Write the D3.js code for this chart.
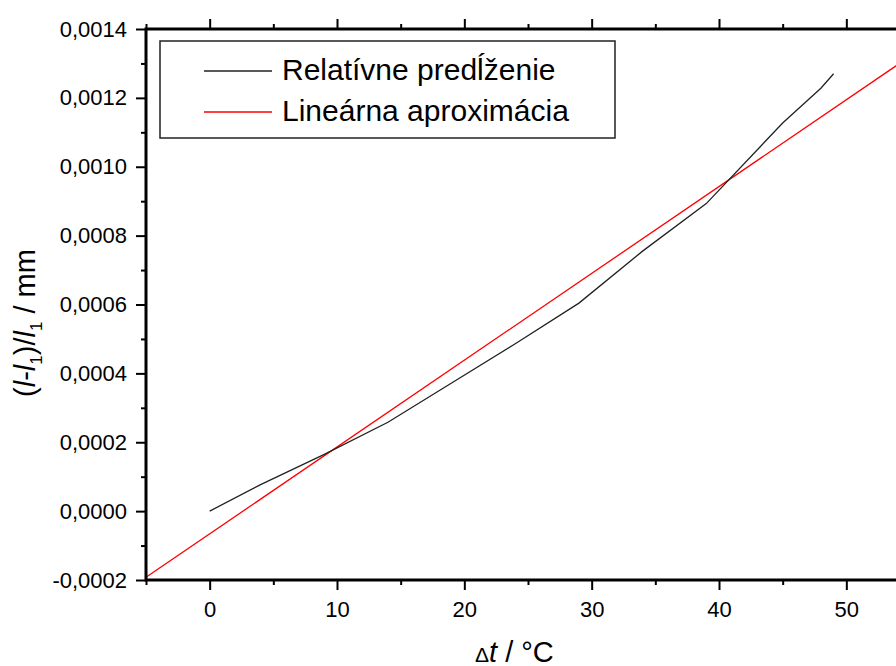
<!DOCTYPE html>
<html lang="sk">
<head>
  <meta charset="UTF-8">
  <title>Relatívne predĺženie</title>
  <style>
    body { margin: 0; background: #fff; }
    svg { display: block; font-family: "Liberation Sans", Arial, sans-serif; }
  </style>
</head>
<body>
  <div id="chart"></div>
  <script src="https://cdn.jsdelivr.net/npm/d3@7/dist/d3.min.js"></script>
  <script>
    // namerané hodnoty
    var dt = [0, 4, 9, 14, 19, 24, 29, 34, 39, 45, 48, 49];
    var rel = [0.0000, 0.000077, 0.000165, 0.000258, 0.000372, 0.000486, 0.000604,
      0.000755, 0.000893, 0.001127, 0.001228, 0.00127];
    // lineárna aproximácia y = a*t + b
    var fitA = 2.521e-5;
    var fitB = -6.6e-5;
    var fitRange = [-5, 55];

    var xTicks = [0, 10, 20, 30, 40, 50];
    var yTicks = [-0.0002, 0, 0.0002, 0.0004, 0.0006, 0.0008, 0.0010, 0.0012, 0.0014];

    var width = 896, height = 666;
    var pLeft = 146, pRight = 910, pTop = 29, pBottom = 580;

    var x = d3.scaleLinear().domain([-5, 55]).range([pLeft, pRight]);
    var y = d3.scaleLinear().domain([-0.0002, 0.0014]).range([pBottom, pTop]);

    var loc = d3.formatLocale({decimal: ',', thousands: ' ', grouping: [3], currency: ['', ''], minus: '-'});
    var fmt = loc.format('.4f');

    var svg = d3.select('#chart').append('svg')
      .attr('width', width)
      .attr('height', height);

    svg.append('clipPath').attr('id', 'plot')
      .append('rect')
      .attr('x', pLeft).attr('y', pTop)
      .attr('width', pRight - pLeft).attr('height', pBottom - pTop);

    var plot = svg.append('g').attr('clip-path', 'url(#plot)');

    var fitData = fitRange.map(function(t) { return {t: t, v: fitA * t + fitB}; });
    plot.append('path')
      .datum(fitData)
      .attr('fill', 'none')
      .attr('stroke', '#ff0000')
      .attr('stroke-width', 1.3)
      .attr('d', d3.line().x(function(d) { return x(d.t); }).y(function(d) { return y(d.v); }));

    var meas = dt.map(function(t, i) { return {t: t, v: rel[i]}; });
    plot.append('path')
      .datum(meas)
      .attr('fill', 'none')
      .attr('stroke', '#222')
      .attr('stroke-width', 1.3)
      .attr('d', d3.line().x(function(d) { return x(d.t); }).y(function(d) { return y(d.v); }));

    // osi
    var xMinor = d3.range(-5, 56, 5).filter(function(t) { return t % 10 !== 0; });
    var yMinor = d3.range(-1, 14, 2).map(function(k) { return k * 0.0001; });

    function styleAxis(g) {
      g.attr('font-size', 22).attr('font-family', 'Liberation Sans, Arial, sans-serif');
      g.select('.domain').remove();
      g.selectAll('line').attr('stroke', '#000').attr('stroke-width', 2);
      g.selectAll('text').attr('fill', '#000');
    }

    svg.append('g').attr('transform', 'translate(0,' + pBottom + ')')
      .call(d3.axisBottom(x).tickValues(xTicks).tickSize(10).tickPadding(11).tickFormat(d3.format('d')))
      .call(styleAxis);
    svg.append('g').attr('transform', 'translate(0,' + pBottom + ')')
      .call(d3.axisBottom(x).tickValues(xMinor).tickSize(5).tickFormat(''))
      .call(styleAxis);

    svg.append('g').attr('transform', 'translate(0,' + pTop + ')')
      .call(d3.axisTop(x).tickValues(xTicks).tickSize(10).tickFormat(''))
      .call(styleAxis);
    svg.append('g').attr('transform', 'translate(0,' + pTop + ')')
      .call(d3.axisTop(x).tickValues(xMinor).tickSize(5).tickFormat(''))
      .call(styleAxis);

    svg.append('g').attr('transform', 'translate(' + pLeft + ',0)')
      .call(d3.axisLeft(y).tickValues(yTicks).tickSize(10).tickPadding(9).tickFormat(fmt))
      .call(styleAxis);
    svg.append('g').attr('transform', 'translate(' + pLeft + ',0)')
      .call(d3.axisLeft(y).tickValues(yMinor).tickSize(5).tickFormat(''))
      .call(styleAxis);

    svg.append('g').attr('transform', 'translate(' + pRight + ',0)')
      .call(d3.axisRight(y).tickValues(yTicks).tickSize(10).tickFormat(''))
      .call(styleAxis);

    // rám
    svg.append('path')
      .attr('d', 'M' + pLeft + ',' + pBottom + 'V' + pTop + 'H' + pRight + 'V' + pBottom + 'Z')
      .attr('fill', 'none')
      .attr('stroke', '#000')
      .attr('stroke-width', 3);

    // popis osi x
    var xt = svg.append('text')
      .attr('x', 475).attr('y', 662)
      .attr('font-size', 29)
      .attr('fill', '#000');
    xt.append('tspan').attr('font-size', 21).text('Δ');
    xt.append('tspan').attr('font-style', 'italic').text('t');
    xt.append('tspan').text(' / °C');

    // popis osi y
    var yt = svg.append('text')
      .attr('transform', 'translate(35,323) rotate(-90)')
      .attr('text-anchor', 'middle')
      .attr('font-size', 29)
      .attr('fill', '#000');
    yt.append('tspan').text('(');
    yt.append('tspan').attr('font-style', 'italic').text('l');
    yt.append('tspan').text('-');
    yt.append('tspan').attr('font-style', 'italic').text('l');
    yt.append('tspan').attr('font-size', 17).attr('dy', 7).text('1');
    yt.append('tspan').attr('dy', -7).text(')/');
    yt.append('tspan').attr('font-style', 'italic').text('l');
    yt.append('tspan').attr('font-size', 17).attr('dy', 7).text('1');
    yt.append('tspan').attr('dy', -7).text(' / mm');

    // legenda
    var legendItems = ['Relatívne predĺženie', 'Lineárna aproximácia'];
    var legendColors = ['#222', '#ff0000'];

    var lg = svg.append('g');
    lg.append('rect')
      .attr('x', 160).attr('y', 41)
      .attr('width', 455).attr('height', 97)
      .attr('fill', '#fff')
      .attr('stroke', '#222')
      .attr('stroke-width', 1.5);

    var row = lg.selectAll('g.item')
      .data(legendItems)
      .enter().append('g')
      .attr('class', 'item')
      .attr('transform', function(d, i) { return 'translate(0,' + (71 + i * 41) + ')'; });
    row.append('line')
      .attr('x1', 204).attr('x2', 272)
      .attr('stroke', function(d, i) { return legendColors[i]; })
      .attr('stroke-width', 1.3);
    row.append('text')
      .attr('x', 282).attr('y', 9)
      .attr('font-size', 30)
      .attr('fill', '#000')
      .text(function(d) { return d; });
  </script>
</body>
</html>
